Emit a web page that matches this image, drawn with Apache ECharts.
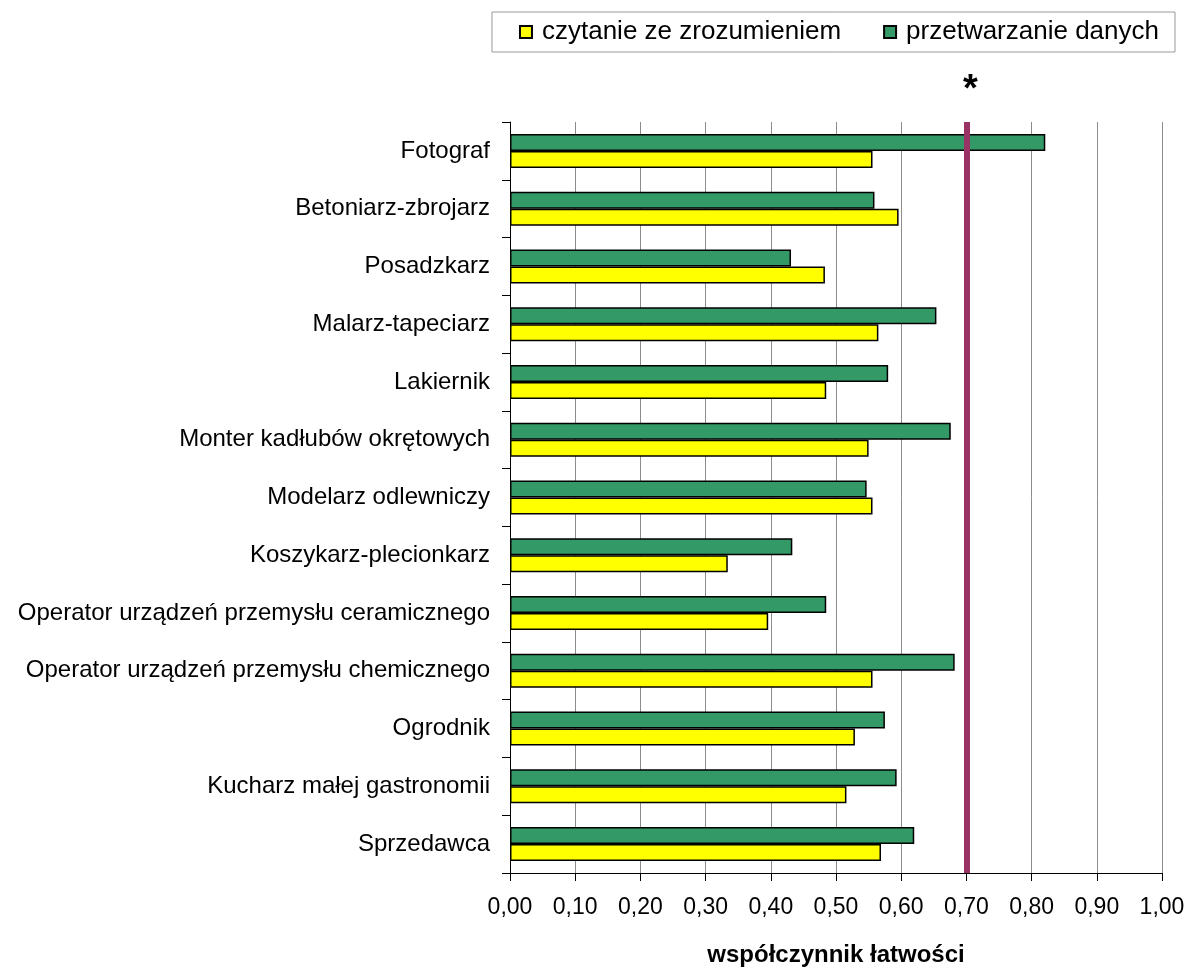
<!DOCTYPE html>
<html>
<head>
<meta charset="utf-8">
<script src="https://cdn.jsdelivr.net/npm/echarts@6/dist/echarts.min.js"></script>
<style>
  html, body { margin: 0; padding: 0; background: #fff; }
  #chart { width: 1189px; height: 968px; }
</style>
</head>
<body>
<div id="chart"></div>
<script>
// Professions, top to bottom
const categories = [
  'Fotograf',
  'Betoniarz-zbrojarz',
  'Posadzkarz',
  'Malarz-tapeciarz',
  'Lakiernik',
  'Monter kadłubów okrętowych',
  'Modelarz odlewniczy',
  'Koszykarz-plecionkarz',
  'Operator urządzeń przemysłu ceramicznego',
  'Operator urządzeń przemysłu chemicznego',
  'Ogrodnik',
  'Kucharz małej gastronomii',
  'Sprzedawca'
];

// Facility coefficient: reading comprehension
const readingScores = [0.556, 0.596, 0.483, 0.565, 0.485, 0.550, 0.556, 0.334, 0.396, 0.556, 0.529, 0.516, 0.569];

// Facility coefficient: data processing
const dataScores = [0.821, 0.559, 0.431, 0.654, 0.580, 0.676, 0.547, 0.433, 0.485, 0.682, 0.575, 0.593, 0.620];

// Reference threshold marked with the asterisk
const threshold = 0.70;

const seriesNames = ['czytanie ze zrozumieniem', 'przetwarzanie danych'];
const axisTitle = 'współczynnik łatwości';

const FONT = '"Liberation Sans", Arial, sans-serif';

const chart = echarts.init(document.getElementById('chart'), null, { renderer: 'canvas' });

const barBorder = { borderColor: '#000', borderWidth: 1.5 };

chart.setOption({
  backgroundColor: '#fff',
  animation: false,
  textStyle: { fontFamily: FONT },
  legend: {
    data: seriesNames,
    right: 14,
    top: 12,
    orient: 'horizontal',
    backgroundColor: '#fff',
    borderColor: '#9a9a9a',
    borderWidth: 1,
    padding: [7, 16, 7, 27],
    itemGap: 42,
    itemWidth: 12,
    itemHeight: 12,
    icon: 'rect',
    textStyle: { fontFamily: FONT, fontSize: 26, color: '#000', padding: [0, 0, 0, 5] }
  },
  grid: {
    left: 510,
    right: 27,
    top: 122,
    bottom: 95,
    containLabel: false,
    outerBoundsMode: 'none'
  },
  xAxis: {
    type: 'value',
    min: 0,
    max: 1,
    interval: 0.1,
    name: axisTitle,
    nameLocation: 'middle',
    nameGap: 70,
    nameTextStyle: { fontFamily: FONT, fontSize: 24, fontWeight: 'bold', color: '#000' },
    axisLine: { show: true, lineStyle: { color: '#000', width: 1 } },
    axisTick: { show: true, length: 8, inside: false, lineStyle: { color: '#000' } },
    axisLabel: {
      fontFamily: FONT,
      fontSize: 23,
      color: '#000',
      margin: 23,
      formatter: v => v.toFixed(2).replace('.', ',')
    },
    splitLine: { show: true, lineStyle: { color: '#8c8c8c', width: 1 } }
  },
  yAxis: {
    type: 'category',
    data: categories,
    inverse: true,
    axisLine: { show: true, lineStyle: { color: '#000', width: 1 } },
    axisTick: { show: true, length: 8, inside: false, lineStyle: { color: '#000' } },
    axisLabel: { fontFamily: FONT, fontSize: 24, color: '#000', margin: 20 },
    splitLine: { show: false }
  },
  series: [
    {
      name: seriesNames[1],
      type: 'bar',
      data: dataScores,
      barWidth: 17,
      barGap: '0%',
      itemStyle: Object.assign({ color: '#339966' }, barBorder),
      z: 2,
      markLine: {
        silent: true,
        symbol: ['none', 'none'],
        z: 5,
        lineStyle: { color: '#993366', width: 6, type: 'solid' },
        label: {
          show: true,
          position: 'start',
          formatter: '*',
          fontFamily: FONT,
          fontSize: 38,
          fontWeight: 'bold',
          color: '#000',
          distance: 12,
          offset: [4, 0]
        },
        data: [{ xAxis: threshold }]
      }
    },
    {
      name: seriesNames[0],
      type: 'bar',
      data: readingScores,
      barWidth: 17,
      barGap: '0%',
      itemStyle: Object.assign({ color: '#ffff00' }, barBorder),
      z: 2
    }
  ]
});
</script>
</body>
</html>
